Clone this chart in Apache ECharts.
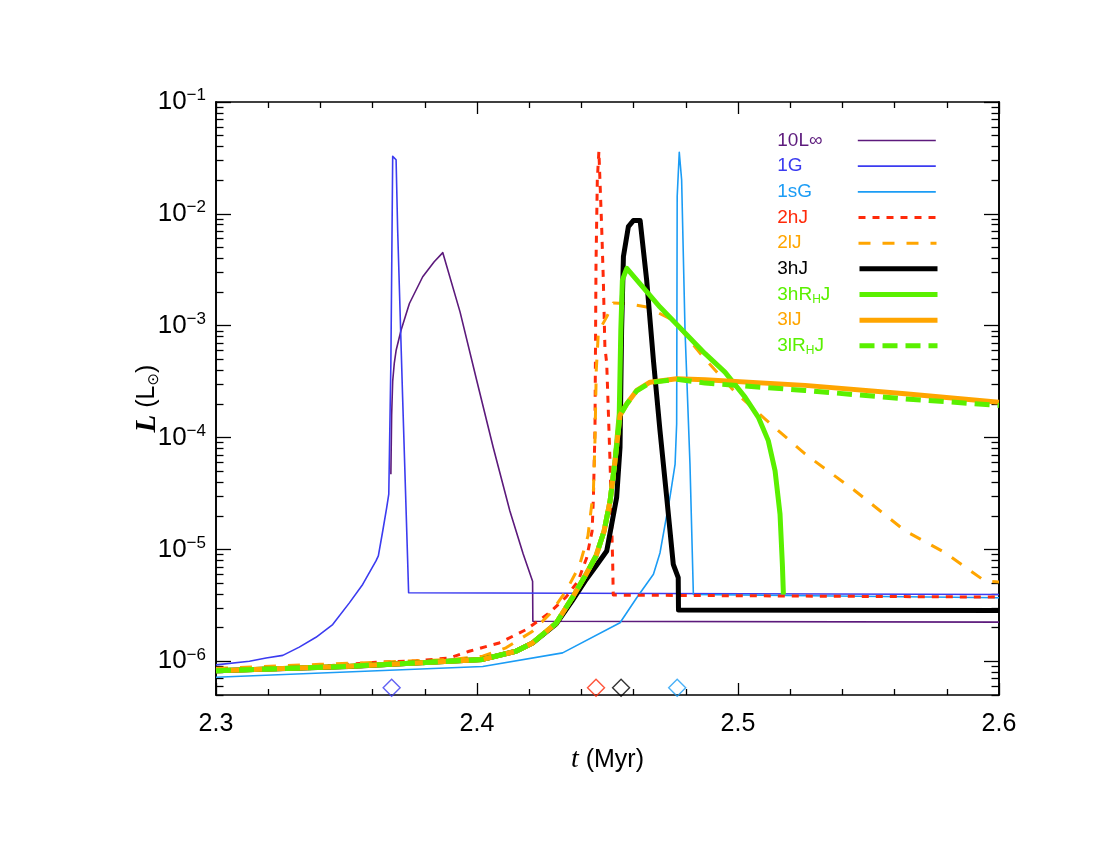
<!DOCTYPE html>
<html>
<head>
<meta charset="utf-8">
<script src="https://cdn.jsdelivr.net/npm/echarts@6.0.0/dist/echarts.min.js"></script>
<style>
  html, body { margin: 0; padding: 0; background: #fff; }
  #chart { width: 1100px; height: 850px; }
</style>
</head>
<body>
<div id="chart"></div>
<script>
// axis setup
const tMin = 2.3, tMax = 2.6, tStep = 0.1;
const yMin = 5e-7, yMax = 0.10001;
const yMajor = [1e-6, 1e-5, 1e-4, 1e-3, 1e-2, 1e-1];

// series names (legend order)
const names = ['10L∞', '1G', '1sG', '2hJ', '2lJ', '3hJ', '3hR_HJ', '3lJ', '3lR_HJ'];

// 10L∞
const t10Linf = [2.3670, 2.3673, 2.3677, 2.3683, 2.3690, 2.3709, 2.3741, 2.3792, 2.3836, 2.3869, 2.3935, 2.3999, 2.4062, 2.4126, 2.4177, 2.4213, 2.4214, 2.6];
const L10Linf = [4.7e-5, 1.6e-4, 3.2e-4, 4.6e-4, 6.0e-4, 9.1e-4, 1.58e-3, 2.74e-3, 3.73e-3, 4.5e-3, 1.33e-3, 3.24e-4, 8.2e-5, 2.21e-5, 9.1e-6, 5.2e-6, 2.28e-6, 2.24e-6];

// 1G
const t1G = [2.3, 2.3128, 2.3192, 2.3256, 2.3319, 2.3383, 2.3447, 2.3511, 2.3562, 2.3613, 2.3622, 2.3639, 2.3654, 2.3662, 2.3664, 2.3670, 2.3677, 2.3681, 2.3690, 2.3696, 2.3715, 2.3734, 2.3738, 2.6];
const L1G = [9.3e-7, 1.0e-6, 1.07e-6, 1.13e-6, 1.34e-6, 1.64e-6, 2.13e-6, 3.33e-6, 4.87e-6, 7.9e-6, 8.75e-6, 1.47e-5, 2.37e-5, 3.13e-5, 6.2e-5, 4.6e-4, 3.27e-2, 3.38e-2, 3.05e-2, 7.2e-3, 2.3e-4, 8.4e-6, 4.1e-6, 3.96e-6];

// 1sG
const t1sG = [2.3, 2.4022, 2.4328, 2.4548, 2.4612, 2.4676, 2.4701, 2.4739, 2.4759, 2.4765, 2.4767, 2.4775, 2.4784, 2.4797, 2.4816, 2.4829, 2.6];
const L1sG = [7.2e-7, 9.0e-7, 1.19e-6, 2.21e-6, 3.7e-6, 6.0e-6, 9.3e-6, 2.91e-5, 5.8e-5, 1.33e-4, 1.43e-2, 3.55e-2, 2.02e-2, 9.1e-4, 5.8e-5, 3.96e-6, 3.7e-6];

// 2hJ
const t2hJ = [2.3, 2.3322, 2.3613, 2.3766, 2.3894, 2.3970, 2.4085, 2.4188, 2.4277, 2.4341, 2.4387, 2.4420, 2.4441, 2.4446, 2.4452, 2.4456, 2.4461, 2.4467, 2.4471, 2.4478, 2.4484, 2.4490, 2.4497, 2.4510, 2.4520, 2.4522, 2.6];
const L2hJ = [8.1e-7, 8.8e-7, 9.8e-7, 1.01e-6, 1.07e-6, 1.23e-6, 1.46e-6, 1.92e-6, 2.71e-6, 3.75e-6, 5.2e-6, 8.4e-6, 1.46e-5, 2.91e-5, 1.16e-4, 3.61e-3, 2.02e-2, 3.62e-2, 2.02e-2, 7.2e-3, 2.56e-3, 6.5e-4, 4.6e-4, 5.8e-5, 7.4e-6, 3.91e-6, 3.75e-6];

// 2lJ
const t2lJ = [2.3, 2.3398, 2.3667, 2.3897, 2.4022, 2.4111, 2.4213, 2.4277, 2.4341, 2.4392, 2.4425, 2.4446, 2.4452, 2.4457, 2.4465, 2.4497, 2.4522, 2.4574, 2.4650, 2.4752, 2.4867, 2.4989, 2.5103, 2.5257, 2.5448, 2.5640, 2.5793, 2.5946, 2.6];
const L2lJ = [8.65e-7, 9.4e-7, 9.9e-7, 1.04e-6, 1.11e-6, 1.32e-6, 1.86e-6, 2.62e-6, 4.24e-6, 7.1e-6, 1.32e-5, 3.35e-5, 9.4e-5, 4.0e-4, 8.8e-4, 1.2e-3, 1.6e-3, 1.58e-3, 1.47e-3, 1.12e-3, 5.25e-4, 2.55e-4, 1.47e-4, 7.14e-5, 3.35e-5, 1.47e-5, 9.36e-6, 5.22e-6, 5.11e-6];

// 3hJ
const t3hJ = [2.3, 2.3511, 2.3766, 2.4022, 2.4149, 2.4213, 2.4303, 2.4364, 2.4414, 2.4456, 2.4497, 2.4535, 2.4548, 2.4554, 2.4561, 2.4580, 2.4599, 2.4625, 2.4650, 2.4676, 2.4701, 2.4727, 2.4752, 2.4771, 2.4772, 2.6];
const L3hJ = [8.25e-7, 9.0e-7, 9.66e-7, 1.04e-6, 1.23e-6, 1.46e-6, 2.15e-6, 3.45e-6, 5.22e-6, 7.11e-6, 9.69e-6, 2.91e-5, 8.18e-5, 9.11e-4, 4.14e-3, 7.69e-3, 8.71e-3, 8.71e-3, 2.56e-3, 4.9e-4, 1.16e-4, 2.9e-5, 7.37e-6, 5.59e-6, 2.87e-6, 2.84e-6];

// 3hR_HJ
const t3hRJ = [2.3, 2.3511, 2.3766, 2.4022, 2.4149, 2.4213, 2.4303, 2.4364, 2.4414, 2.4456, 2.4487, 2.4510, 2.4529, 2.4545, 2.4551, 2.4557, 2.4574, 2.4701, 2.4874, 2.4950, 2.5027, 2.5078, 2.5116, 2.5142, 2.5161, 2.5170, 2.5174];
const L3hRJ = [8.25e-7, 9.02e-7, 9.66e-7, 1.04e-6, 1.23e-6, 1.46e-6, 2.19e-6, 3.67e-6, 5.78e-6, 8.74e-6, 1.46e-5, 2.72e-5, 6.22e-5, 1.63e-4, 9.11e-4, 2.56e-3, 3.26e-3, 1.47e-3, 5.63e-4, 3.85e-4, 2.30e-4, 1.52e-4, 9.4e-5, 5.06e-5, 2.07e-5, 7.37e-6, 3.96e-6];

// 3lJ
const t3lJ = [2.3, 2.3511, 2.3766, 2.4022, 2.4149, 2.4213, 2.4303, 2.4364, 2.4414, 2.4456, 2.4487, 2.4510, 2.4529, 2.4548, 2.4574, 2.4612, 2.4663, 2.4765, 2.4874, 2.5257, 2.5640, 2.6];
const L3lJ = [8.25e-7, 9.02e-7, 9.66e-7, 1.04e-6, 1.23e-6, 1.46e-6, 2.19e-6, 3.67e-6, 5.78e-6, 8.74e-6, 1.46e-5, 2.72e-5, 6.22e-5, 1.58e-4, 2.01e-4, 2.64e-4, 3.13e-4, 3.36e-4, 3.29e-4, 2.93e-4, 2.47e-4, 2.07e-4];

// 3lR_HJ
const t3lRJ = [2.3, 2.3511, 2.3766, 2.4022, 2.4149, 2.4213, 2.4303, 2.4364, 2.4414, 2.4456, 2.4487, 2.4510, 2.4529, 2.4548, 2.4574, 2.4612, 2.4663, 2.4765, 2.4874, 2.5257, 2.5640, 2.6];
const L3lRJ = [8.25e-7, 9.02e-7, 9.66e-7, 1.04e-6, 1.23e-6, 1.46e-6, 2.19e-6, 3.67e-6, 5.78e-6, 8.74e-6, 1.46e-5, 2.72e-5, 6.22e-5, 1.58e-4, 2.0e-4, 2.62e-4, 3.1e-4, 3.33e-4, 3.07e-4, 2.64e-4, 2.22e-4, 1.94e-4];

// diamond markers along the bottom
const markT = [2.3673, 2.4456, 2.4552, 2.4767];
const markL = [5.8e-7, 5.8e-7, 5.8e-7, 5.8e-7];

const seriesT = [t10Linf, t1G, t1sG, t2hJ, t2lJ, t3hJ, t3hRJ, t3lJ, t3lRJ];
const seriesL = [L10Linf, L1G, L1sG, L2hJ, L2lJ, L3hJ, L3hRJ, L3lJ, L3lRJ];

// styles
const styles = [
  { color: '#5c1a7c', width: 1.6, type: 'solid' },
  { color: '#3b3bf0', width: 1.6, type: 'solid' },
  { color: '#1b9cf5', width: 1.6, type: 'solid' },
  { color: '#ff2a0a', width: 3, type: [7, 7] },
  { color: '#ffa500', width: 3, type: [12, 12] },
  { color: '#000000', width: 5, type: 'solid' },
  { color: '#5af000', width: 5, type: 'solid' },
  { color: '#ffa500', width: 5, type: 'solid' },
  { color: '#5af000', width: 5, type: [15, 8] }
];
const markColors = ['#3b3bf0', '#ff2a0a', '#000000', '#1b9cf5'];

const sansFont = 'Liberation Sans';
const legendTop = 131;
const legendPitch = 25.67;

const yMinor = [];
for (let e = -7; e <= -2; e++) {
  for (let k = 2; k <= 9; k++) {
    const v = k * Math.pow(10, e);
    if (v >= yMin && v < 0.1) yMinor.push(v);
  }
}

function richName(n) {
  const parts = n.split('_H');
  if (parts.length === 1) return '{n|' + n + '}';
  return '{n|' + parts[0] + '}{s|H}{n|' + parts[1] + '}';
}

function yAxisDef(pos, ticks, len, withLabels) {
  const ax = {
    type: 'log', logBase: 10, min: yMin, max: yMax, position: pos,
    axisLine: { show: true, lineStyle: { color: '#000', width: 1.6 } },
    axisTick: { show: true, inside: true, length: len, customValues: ticks, lineStyle: { color: '#000', width: 1.3 } },
    axisLabel: { show: false },
    splitLine: { show: false },
    minorTick: { show: false },
    minorSplitLine: { show: false }
  };
  if (withLabels) {
    ax.axisLabel = {
      show: true, margin: 10, customValues: yMajor, color: '#000',
      formatter: (v) => '{b|10}{e|−' + Math.round(-Math.log10(v)) + '}',
      rich: {
        b: { fontSize: 26, fontFamily: sansFont, color: '#000', lineHeight: 30 },
        e: { fontSize: 17, fontFamily: sansFont, color: '#000', verticalAlign: 'top' }
      }
    };
    ax.name = '{i|L} (L{o|⊙})';
    ax.nameLocation = 'middle';
    ax.nameGap = 54;
    ax.nameMoveOverlap = false;
    ax.nameTextStyle = {
      fontSize: 25, fontFamily: sansFont, color: '#000',
      rich: {
        i: { fontSize: 29, fontFamily: 'Liberation Serif', fontStyle: 'italic', fontWeight: 'bold', color: '#000' },
        o: { fontSize: 15, fontFamily: 'DejaVu Sans', color: '#000', verticalAlign: 'bottom' }
      }
    };
  }
  return ax;
}

function xAxisDef(pos, withLabels) {
  const ax = {
    type: 'value', min: tMin, max: tMax, interval: tStep, position: pos,
    axisLine: { show: true, onZero: false, lineStyle: { color: '#000', width: 1.6 } },
    axisTick: { show: true, inside: true, length: 12, lineStyle: { color: '#000', width: 1.3 } },
    minorTick: { show: true, splitNumber: 5, length: 6, lineStyle: { color: '#000', width: 1.3 } },
    splitLine: { show: false },
    axisLabel: { show: false }
  };
  if (withLabels) {
    ax.axisLabel = { show: true, margin: 17, fontSize: 25, fontFamily: sansFont, color: '#000', formatter: (v) => v.toFixed(1) };
    ax.name = '{i|t} (Myr)';
    ax.nameLocation = 'middle';
    ax.nameGap = 51;
    ax.nameTextStyle = {
      fontSize: 25, fontFamily: sansFont, color: '#000',
      rich: { i: { fontSize: 28, fontFamily: 'Liberation Serif', fontStyle: 'italic', color: '#000' } }
    };
  }
  return ax;
}

// one text entry and one line sample per legend row, so every row sits at the same pitch
function legendRow(i, forSample) {
  const n = names[i];
  return {
    orient: 'vertical', left: forSample ? 857 : 763, top: legendTop + i * legendPitch, padding: 0,
    itemWidth: forSample ? 78 : 1, itemHeight: 22, itemGap: 0, align: 'left', selectedMode: false,
    data: [{ name: n, textStyle: { color: forSample ? 'rgba(0,0,0,0)' : styles[i].color } }],
    formatter: richName,
    itemStyle: { opacity: 0 },
    lineStyle: forSample ? { width: 'inherit' } : { opacity: 0 },
    textStyle: {
      fontSize: 19, fontFamily: sansFont,
      rich: {
        n: { fontSize: 19, fontFamily: sansFont, lineHeight: 22 },
        s: { fontSize: 12, fontFamily: sansFont, verticalAlign: 'bottom' }
      }
    }
  };
}

const legends = [];
names.forEach((n, i) => { legends.push(legendRow(i, false)); legends.push(legendRow(i, true)); });

const lineSeries = names.map((n, i) => ({
  name: n,
  type: 'line',
  xAxisIndex: 0,
  yAxisIndex: 0,
  symbol: 'none',
  showSymbol: false,
  animation: false,
  z: 2 + i,
  lineStyle: { color: styles[i].color, width: styles[i].width, type: styles[i].type, cap: 'butt', join: 'round' },
  itemStyle: { color: styles[i].color },
  emphasis: { disabled: true },
  data: seriesT[i].map((t, j) => [t, seriesL[i][j]])
}));

const markSeries = {
  name: 'markers',
  type: 'scatter',
  xAxisIndex: 0,
  yAxisIndex: 0,
  symbol: 'diamond',
  symbolSize: [17, 17],
  clip: false,
  z: 20,
  animation: false,
  emphasis: { disabled: true },
  data: markT.map((t, i) => ({
    value: [t, markL[i]],
    itemStyle: { color: 'rgba(0,0,0,0)', borderColor: markColors[i], borderWidth: 1.4 }
  }))
};

const chart = echarts.init(document.getElementById('chart'), null, { renderer: 'canvas' });
chart.setOption({
  animation: false,
  backgroundColor: '#fff',
  grid: { left: 216, right: 101, top: 102, bottom: 155, outerBoundsMode: 'none', containLabel: false },
  xAxis: [xAxisDef('bottom', true), xAxisDef('top', false)],
  yAxis: [
    yAxisDef('left', yMajor, 15, true),
    yAxisDef('left', yMinor, 7.5, false),
    yAxisDef('right', yMajor, 15, false),
    yAxisDef('right', yMinor, 7.5, false)
  ],
  legend: legends,
  series: lineSeries.concat([markSeries])
});
</script>
</body>
</html>
